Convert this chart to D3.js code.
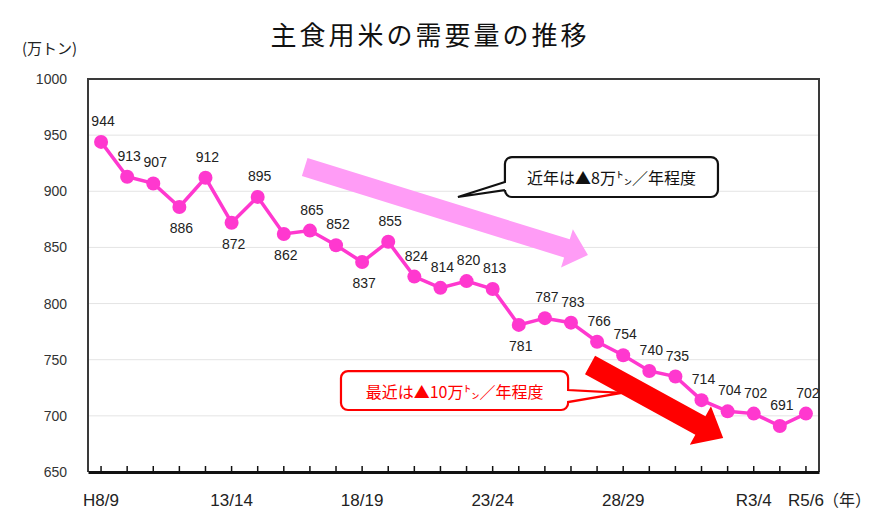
<!DOCTYPE html>
<html>
<head>
<meta charset="utf-8">
<title>主食用米の需要量の推移</title>
<script src="https://d3js.org/d3.v7.min.js"></script>
<style>
  body { margin: 0; background: #fff; }
  text { font-family: "Noto Sans CJK JP", "Noto Sans", sans-serif; }
</style>
</head>
<body>
<script>
// --- data ---
var categories = ["H8/9", "9/10", "10/11", "11/12", "12/13", "13/14", "14/15", "15/16", "16/17",
  "17/18", "18/19", "19/20", "20/21", "21/22", "22/23", "23/24", "24/25", "25/26", "26/27",
  "27/28", "28/29", "29/30", "30/R1", "R1/2", "R2/3", "R3/4", "R4/5", "R5/6"];
var shownLabels = ["H8/9", "13/14", "18/19", "23/24", "28/29", "R3/4", "R5/6"];
var demand = [944, 913, 907, 886, 912, 872, 895, 862, 865, 852, 837, 855, 824, 814, 820, 813,
  781, 787, 783, 766, 754, 740, 735, 714, 704, 702, 691, 702];
var labelBelow = [3, 5, 7, 10, 16];
var yTicks = [650, 700, 750, 800, 850, 900, 950, 1000];

var W = 884, H = 526;
var plotL = 88, plotR = 819, plotT = 79, plotB = 472;
var lineColor = "#ff38cf";

var svg = d3.select("body").append("svg").attr("width", W).attr("height", H);

var x = d3.scaleBand().domain(d3.range(categories.length)).range([plotL, plotR]).padding(0);
var y = d3.scaleLinear().domain([650, 1000]).range([plotB, plotT]);
function cx(i) { return x(Math.floor(i)) + x.bandwidth() / 2 + (i - Math.floor(i)) * x.bandwidth(); }

// title and unit
svg.append("text").attr("x", 430).attr("y", 45).attr("text-anchor", "middle")
  .style("font-size", "26px").style("letter-spacing", "3px").attr("fill", "#111")
  .text("主食用米の需要量の推移");
svg.append("text").attr("x", 22).attr("y", 54).style("font-size", "15px").attr("fill", "#222")
  .text("(万トン)");

// gridlines
svg.append("g").selectAll("line").data(yTicks.filter(function(d) { return d > 650 && d < 1000; }))
  .enter().append("line")
  .attr("x1", plotL).attr("x2", plotR)
  .attr("y1", function(d) { return y(d); }).attr("y2", function(d) { return y(d); })
  .attr("stroke", "#e4e4e4").attr("stroke-width", 1);

// y axis labels
var yAxis = d3.axisLeft(y).tickValues(yTicks).tickSize(0).tickPadding(21).tickFormat(d3.format("d"));
var gy = svg.append("g").attr("transform", "translate(" + plotL + ",0)").call(yAxis);
gy.select(".domain").remove();
gy.selectAll("text").style("font-size", "14px").attr("fill", "#333")
  .style("font-family", "'Liberation Sans', sans-serif");

// frame
svg.append("path")
  .attr("d", "M" + plotL + "," + plotB + "V" + plotT + "H" + plotR + "V" + plotB)
  .attr("fill", "none").attr("stroke", "#3a3a3a").attr("stroke-width", 2);

// x axis
var xAxis = d3.axisBottom(x).tickSizeInner(-6).tickSizeOuter(0).tickFormat("");
var gx = svg.append("g").attr("transform", "translate(0," + plotB + ")").call(xAxis);
gx.select(".domain").attr("stroke", "#111").attr("stroke-width", 3);
gx.selectAll(".tick line").attr("stroke", "#111").attr("stroke-width", 1.5);

svg.append("g").selectAll("text").data(shownLabels).enter().append("text")
  .attr("x", function(d) { return cx(categories.indexOf(d)); })
  .attr("y", 506).attr("text-anchor", "middle")
  .style("font-size", "17px").style("font-family", "'Liberation Sans', sans-serif")
  .attr("fill", "#222").text(function(d) { return d; });
svg.append("text").attr("x", 823).attr("y", 506).style("font-size", "16px").attr("fill", "#222")
  .text("（年）");

// arrows (anchored in data units)
function arrowPath(p0, p1, w, hw, hl) {
  var x0 = cx(p0[0]), y0 = y(p0[1]), x1 = cx(p1[0]), y1 = y(p1[1]);
  var dx = x1 - x0, dy = y1 - y0, len = Math.sqrt(dx * dx + dy * dy);
  var ux = dx / len, uy = dy / len, nx = -uy, ny = ux;
  var bx = x1 - ux * hl, by = y1 - uy * hl;
  var pts = [
    [x0 + nx * w / 2, y0 + ny * w / 2],
    [bx + nx * w / 2, by + ny * w / 2],
    [bx + nx * hw / 2, by + ny * hw / 2],
    [x1, y1],
    [bx - nx * hw / 2, by - ny * hw / 2],
    [bx - nx * w / 2, by - ny * w / 2],
    [x0 - nx * w / 2, y0 - ny * w / 2]
  ];
  return "M" + pts.map(function(p) { return p.join(","); }).join("L") + "Z";
}

function calloutPath(b, side, a1, a2, tip, r) {
  var x0 = cx(b[0]), x1 = cx(b[1]), y0 = y(b[2]), y1 = y(b[3]);
  var ya = y(a1), yb = y(a2), tx = cx(tip[0]), ty = y(tip[1]);
  var p = "M" + (x0 + r) + "," + y0 + "H" + (x1 - r) +
    "A" + r + "," + r + " 0 0 1 " + x1 + "," + (y0 + r);
  if (side === "right") p += "V" + ya + "L" + tx + "," + ty + "L" + x1 + "," + yb;
  p += "V" + (y1 - r) + "A" + r + "," + r + " 0 0 1 " + (x1 - r) + "," + y1 +
    "H" + (x0 + r) + "A" + r + "," + r + " 0 0 1 " + x0 + "," + (y1 - r);
  if (side === "left") p += "V" + yb + "L" + tx + "," + ty + "L" + x0 + "," + ya;
  p += "V" + (y0 + r) + "A" + r + "," + r + " 0 0 1 " + (x0 + r) + "," + y0 + "Z";
  return p;
}

svg.append("path").attr("d", arrowPath([7.8, 921.6], [18.65, 843.3], 19, 40, 22))
  .attr("fill", "#ff9cf6");

// callout: recent years
svg.append("path")
  .attr("d", calloutPath([15.47, 23.63, 930.5, 894.9], "left", 908.3, 901.1, [13.67, 894.9], 7))
  .attr("fill", "#fff").attr("stroke", "#111").attr("stroke-width", 2.2);
svg.append("text").attr("x", (cx(15.47) + cx(23.63)) / 2).attr("y", (y(930.5) + y(894.9)) / 2)
  .attr("text-anchor", "middle").attr("dominant-baseline", "central")
  .style("font-size", "16px").attr("fill", "#111").text("近年は▲8万㌧／年程度");

// callout: most recent
svg.append("path")
  .attr("d", calloutPath([9.19, 17.89, 739.9, 705.2], "right", 723.0, 712.3, [19.95, 720.4], 7))
  .attr("fill", "#fff").attr("stroke", "#ff0000").attr("stroke-width", 2.2);
svg.append("text").attr("x", (cx(9.19) + cx(17.89)) / 2).attr("y", (y(739.9) + y(705.2)) / 2)
  .attr("text-anchor", "middle").attr("dominant-baseline", "central")
  .style("font-size", "16px").attr("fill", "#ff0000").text("最近は▲10万㌧／年程度");

svg.append("path").attr("d", arrowPath([18.73, 745.3], [23.83, 680.3], 21, 44, 26))
  .attr("fill", "#ff0000");

// series
var line = d3.line().x(function(d, i) { return cx(i); }).y(function(d) { return y(d); });
svg.append("path").datum(demand).attr("d", line)
  .attr("fill", "none").attr("stroke", lineColor).attr("stroke-width", 3.5);
svg.append("g").selectAll("circle").data(demand).enter().append("circle")
  .attr("cx", function(d, i) { return cx(i); }).attr("cy", function(d) { return y(d); })
  .attr("r", 7).attr("fill", lineColor);

svg.append("g").selectAll("text").data(demand).enter().append("text")
  .attr("x", function(d, i) { return cx(i) + 2; })
  .attr("y", function(d, i) { return y(d) + (labelBelow.indexOf(i) >= 0 ? 21 : -21); })
  .attr("text-anchor", "middle").attr("dominant-baseline", "central")
  .style("font-size", "14px").style("font-family", "'Liberation Sans', sans-serif")
  .attr("fill", "#222").text(function(d) { return d; });
</script>
</body>
</html>
